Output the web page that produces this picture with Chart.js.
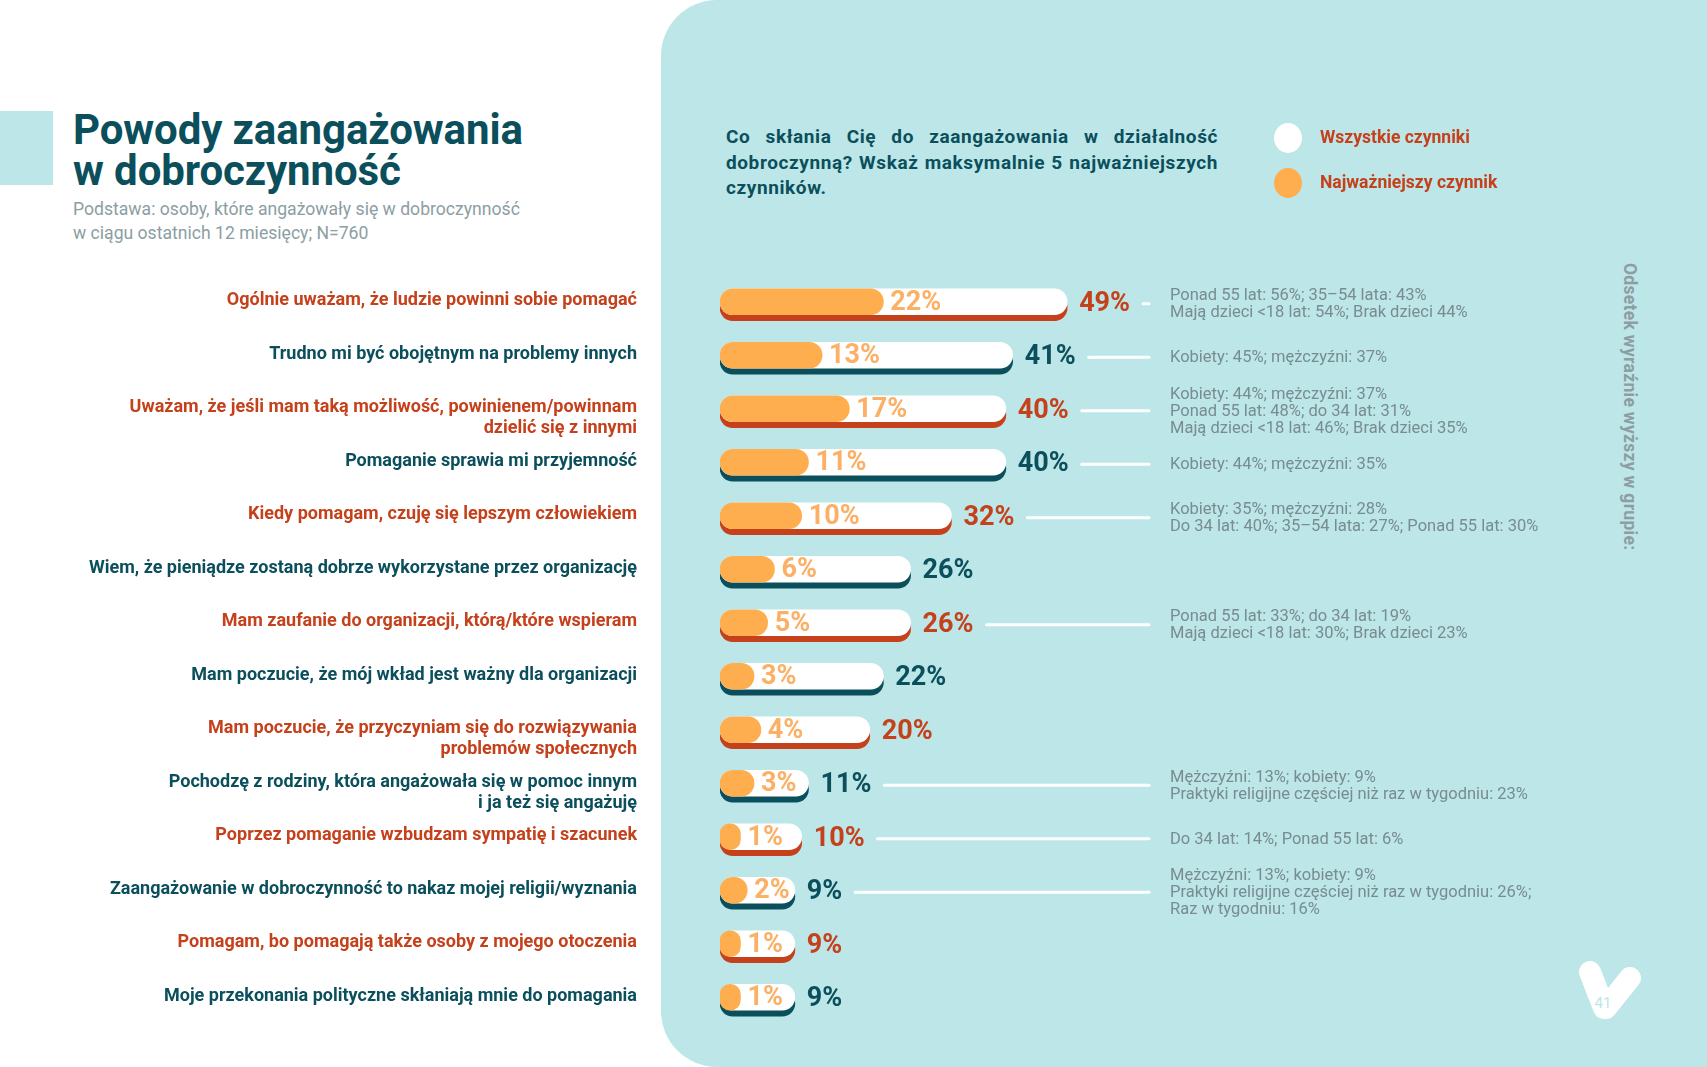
<!DOCTYPE html>
<html lang="pl">
<head>
<meta charset="utf-8">
<title>Powody zaangażowania w dobroczynność</title>
<script src="https://cdn.jsdelivr.net/npm/chart.js@4.4.1/dist/chart.umd.min.js"></script>
<style>
  html, body { margin: 0; padding: 0; background: #fff; }
  body { width: 1707px; height: 1067px; position: relative; overflow: hidden; font-family: Roboto, "Open Sans", sans-serif; }
  #panel { position: absolute; left: 661px; top: 0; right: 0; bottom: 0; background: #bce6e7; border-radius: 56px 0 0 56px; }
  #tab { position: absolute; left: 0; top: 111px; width: 53px; height: 74px; background: #bce6e7; }
  #title { position: absolute; left: 73px; top: 109px; margin: 0; font-size: 42px; line-height: 41px; font-weight: 700; color: #0b4f5c; letter-spacing: -0.1px; }
  #base { position: absolute; left: 73px; top: 197px; font-size: 17.6px; line-height: 24px; color: #8c9ea3; }
  #question { position: absolute; left: 726px; top: 124px; width: 492px; text-align: justify; font-size: 19px; line-height: 25.5px; font-weight: 700; color: #0b4f5c; letter-spacing: 0.6px; }
  #side { position: absolute; left: 1620px; top: 263px; writing-mode: vertical-rl; font-size: 17.5px; font-weight: 700; color: #8c9ea3; letter-spacing: 0.3px; }
  #logo { position: absolute; left: 1570px; top: 950px; }
  canvas { position: absolute; left: 0; top: 0; }
</style>
</head>
<body>
<div id="panel"></div>
<div id="tab"></div>
<h1 id="title">Powody zaangażowania<br>w dobroczynność</h1>
<div id="base">Podstawa: osoby, które angażowały się w dobroczynność<br>w ciągu ostatnich 12 miesięcy; N=760</div>
<div id="question">Co skłania Cię do zaangażowania w działalność dobroczynną? Wskaż maksymalnie 5 najważniejszych czynników.</div>
<div id="side">Odsetek wyraźnie wyższy w grupie:</div>
<svg id="logo" width="80" height="80" viewBox="0 0 80 80">
  <path d="M20 22 L34 58 M60 28 L36 58" stroke="#fff" stroke-width="22" stroke-linecap="round" fill="none"/>
  <text x="33" y="58" font-family="Roboto" font-size="15" fill="#bce6e7" text-anchor="middle">41</text>
</svg>
<canvas id="chart" width="1707" height="1067"></canvas>
<script>
const categories = [
  ["Ogólnie uważam, że ludzie powinni sobie pomagać"],
  ["Trudno mi być obojętnym na problemy innych"],
  ["Uważam, że jeśli mam taką możliwość, powinienem/powinnam", "dzielić się z innymi"],
  ["Pomaganie sprawia mi przyjemność"],
  ["Kiedy pomagam, czuję się lepszym człowiekiem"],
  ["Wiem, że pieniądze zostaną dobrze wykorzystane przez organizację"],
  ["Mam zaufanie do organizacji, którą/które wspieram"],
  ["Mam poczucie, że mój wkład jest ważny dla organizacji"],
  ["Mam poczucie, że przyczyniam się do rozwiązywania", "problemów społecznych"],
  ["Pochodzę z rodziny, która angażowała się w pomoc innym", "i ja też się angażuję"],
  ["Poprzez pomaganie wzbudzam sympatię i szacunek"],
  ["Zaangażowanie w dobroczynność to nakaz mojej religii/wyznania"],
  ["Pomagam, bo pomagają także osoby z mojego otoczenia"],
  ["Moje przekonania polityczne skłaniają mnie do pomagania"]
];
const allFactors = [49, 41, 40, 40, 32, 26, 26, 22, 20, 11, 10, 9, 9, 9];
const topFactor = [22, 13, 17, 11, 10, 6, 5, 3, 4, 3, 1, 2, 1, 1];
const groupNotes = [
  ["Ponad 55 lat: 56%; 35–54 lata: 43%", "Mają dzieci <18 lat: 54%; Brak dzieci 44%"],
  ["Kobiety: 45%; mężczyźni: 37%"],
  ["Kobiety: 44%; mężczyźni: 37%", "Ponad 55 lat: 48%; do 34 lat: 31%", "Mają dzieci <18 lat: 46%; Brak dzieci 35%"],
  ["Kobiety: 44%; mężczyźni: 35%"],
  ["Kobiety: 35%; mężczyźni: 28%", "Do 34 lat: 40%; 35–54 lata: 27%; Ponad 55 lat: 30%"],
  [],
  ["Ponad 55 lat: 33%; do 34 lat: 19%", "Mają dzieci <18 lat: 30%; Brak dzieci 23%"],
  [],
  [],
  ["Mężczyźni: 13%; kobiety: 9%", "Praktyki religijne częściej niż raz w tygodniu: 23%"],
  ["Do 34 lat: 14%; Ponad 55 lat: 6%"],
  ["Mężczyźni: 13%; kobiety: 9%", "Praktyki religijne częściej niż raz w tygodniu: 26%;", "Raz w tygodniu: 16%"],
  [],
  []
];

const RED = "#c5411b";
const TEAL = "#0b4f5c";
const ORANGE = "#ffae4f";
const ORANGE_TEXT = "#fbb066";
const rowColor = i => (i % 2 === 0 ? RED : TEAL);
const FONT = "Roboto, 'Open Sans', sans-serif";

// shadow bars sit a few pixels lower than the white ones
const shadowShift = {
  id: "shadowShift",
  beforeDatasetDraw(chart, args) {
    if (args.index === 0) { chart.ctx.save(); chart.ctx.translate(0, 6); }
  },
  afterDatasetDraw(chart, args) {
    if (args.index === 0) chart.ctx.restore();
  }
};

const rowText = {
  id: "rowText",
  afterDatasetsDraw(chart) {
    const ctx = chart.ctx;
    const yScale = chart.scales.y;
    const whiteBars = chart.getDatasetMeta(1).data;
    const orangeBars = chart.getDatasetMeta(2).data;
    const labelRight = chart.chartArea.left - 83;
    const notesLeft = 1170;
    ctx.save();
    ctx.textBaseline = "middle";
    categories.forEach((lines, i) => {
      const y = yScale.getPixelForValue(i);
      const col = rowColor(i);

      ctx.font = "bold 18px " + FONT;
      ctx.fillStyle = col;
      ctx.textAlign = "right";
      lines.forEach((t, k) => ctx.fillText(t, labelRight, y - 1 + k * 21));

      ctx.textAlign = "left";
      ctx.font = "bold 27px " + FONT;
      ctx.fillStyle = ORANGE_TEXT;
      ctx.fillText(topFactor[i] + "%", orangeBars[i].x + 7, y + 1);

      const totalText = allFactors[i] + "%";
      const tx = whiteBars[i].x + 12;
      ctx.fillStyle = col;
      ctx.fillText(totalText, tx, y + 2);
      const tw = ctx.measureText(totalText).width;

      const notes = groupNotes[i];
      if (notes.length) {
        ctx.strokeStyle = "#ffffff";
        ctx.lineWidth = 3;
        ctx.lineCap = "round";
        ctx.beginPath();
        ctx.moveTo(tx + tw + 13, y + 2);
        ctx.lineTo(notesLeft - 21, y + 2);
        ctx.stroke();

        ctx.font = "16.5px " + FONT;
        ctx.fillStyle = "#788c91";
        const lh = 17;
        const y0 = y + 3 - (notes.length - 1) * lh / 2;
        notes.forEach((t, k) => ctx.fillText(t, notesLeft, y0 + k * lh));
      }
    });

    // legend
    const legendItems = [chart.data.datasets[1], chart.data.datasets[2]];
    legendItems.forEach((ds, k) => {
      const ly = 138 + k * 45;
      ctx.fillStyle = ds.backgroundColor;
      ctx.beginPath();
      ctx.ellipse(1288, ly, 14, 15, 0, 0, Math.PI * 2);
      ctx.fill();
      ctx.font = "bold 17.5px " + FONT;
      ctx.fillStyle = RED;
      ctx.textAlign = "left";
      ctx.fillText(ds.label, 1320, ly + 1);
    });
    ctx.restore();
  }
};

new Chart(document.getElementById("chart"), {
  type: "bar",
  data: {
    labels: categories,
    datasets: [
      {
        label: "cień",
        data: allFactors,
        backgroundColor: categories.map((c, i) => rowColor(i)),
        order: 3
      },
      {
        label: "Wszystkie czynniki",
        data: allFactors,
        backgroundColor: "#ffffff",
        order: 2
      },
      {
        label: "Najważniejszy czynnik",
        data: topFactor,
        backgroundColor: ORANGE,
        order: 1
      }
    ]
  },
  options: {
    indexAxis: "y",
    responsive: false,
    animation: false,
    layout: { padding: { left: 720, right: 565, top: 275, bottom: 43 } },
    datasets: {
      bar: {
        base: -2,
        grouped: false,
        barThickness: 26,
        borderRadius: 13,
        borderSkipped: false
      }
    },
    scales: {
      x: { type: "linear", min: -2, max: 60, display: false },
      y: { type: "category", display: false }
    },
    plugins: {
      legend: { display: false },
      tooltip: { enabled: false }
    }
  },
  plugins: [shadowShift, rowText]
});
</script>
</body>
</html>
